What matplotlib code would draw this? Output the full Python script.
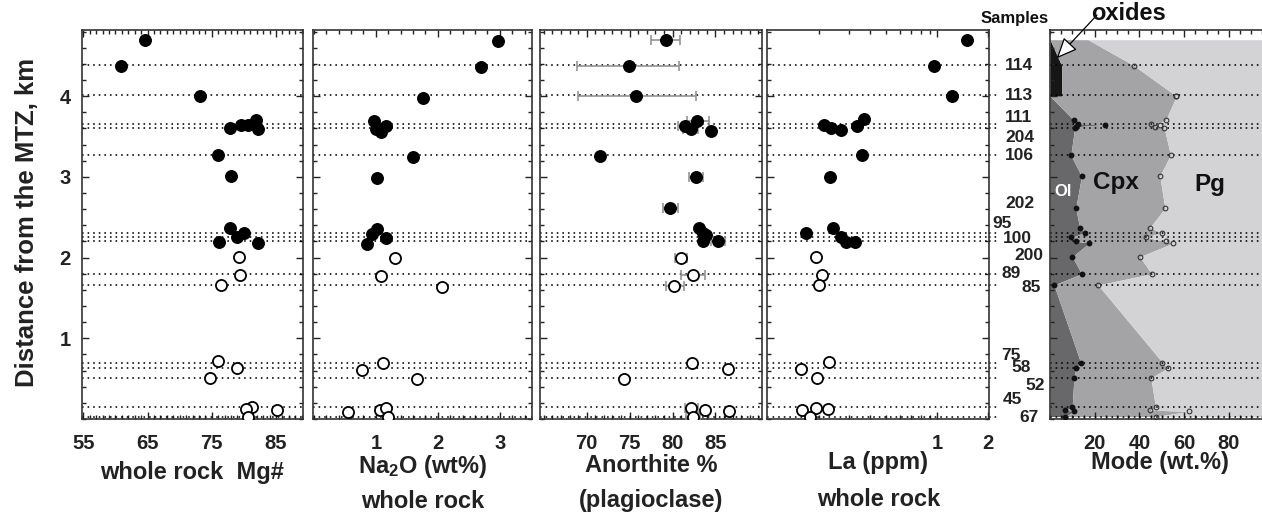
import numpy as np
import matplotlib
matplotlib.use('Agg')
import matplotlib.pyplot as plt
from matplotlib.ticker import FixedLocator, MultipleLocator, LogLocator, NullFormatter

plt.rcParams['font.family'] = ['Liberation Sans', 'DejaVu Sans']
plt.rcParams['font.weight'] = 'bold'
plt.rcParams['mathtext.fontset'] = 'custom'
plt.rcParams['mathtext.rm'] = 'Liberation Sans:bold'
plt.rcParams['mathtext.it'] = 'Liberation Sans:bold'

W, H = 1262, 516
INK = '#222222'

# ---- data (depth in km above the MTZ) ----
line_depths  = [4.39, 4.01, 3.655, 3.605, 3.27, 2.31, 2.26, 2.20, 1.80, 1.66, 0.70, 0.63, 0.51, 0.15, 0.03]
sample_names = ['114', '113', '111', '204', '106', '202', '95', '100', '200', '89', '85',
                '75', '58', '52', '45', '67']

mg_depth_f = [4.69, 4.38, 4.00, 3.70, 3.64, 3.64, 3.60, 3.59, 3.27, 3.01, 2.37, 2.31, 2.26, 2.19, 2.18]
mg_f       = [64.6, 60.9, 73.1, 81.9, 79.5, 80.6, 77.8, 82.2, 76.0, 78.0, 77.8, 80.0, 78.9, 76.1, 82.2]
mg_depth_o = [2.01, 1.79, 1.66, 0.72, 0.63, 0.51, 0.15, 0.13, 0.11, 0.03]
mg_o       = [79.2, 79.4, 76.5, 76.0, 79.0, 74.8, 81.3, 80.3, 85.2, 80.6]

na_depth_f = [4.68, 4.36, 3.98, 3.69, 3.63, 3.59, 3.56, 3.25, 2.99, 2.36, 2.29, 2.24, 2.17]
na_f       = [2.97, 2.69, 1.76, 0.97, 1.16, 1.00, 1.09, 1.60, 1.01, 1.01, 0.93, 1.16, 0.85]
na_depth_o = [2.00, 1.77, 1.64, 0.69, 0.61, 0.50, 0.09, 0.11, 0.14, 0.02]
na_o       = [1.31, 1.08, 2.07, 1.11, 0.78, 1.67, 0.55, 1.06, 1.16, 1.19]

an_depth_f = [4.69, 4.37, 4.00, 3.69, 3.63, 3.59, 3.57, 3.26, 3.00, 2.61, 2.37, 2.31, 2.28, 2.20, 2.20]
an_f       = [79.2, 74.9, 75.8, 82.9, 81.5, 82.1, 84.5, 71.6, 82.7, 79.7, 83.1, 83.6, 83.9, 83.5, 85.3]
an_lo_f    = [77.5, 68.9, 69.0, 81.7, 80.6, 81.2, 84.5, 71.6, 81.9, 78.9, 83.1, 83.6, 83.9, 83.5, 84.5]
an_hi_f    = [80.9, 80.8, 82.7, 84.3, 82.4, 83.0, 84.5, 71.6, 83.6, 80.6, 83.1, 83.6, 83.9, 83.5, 86.1]
an_depth_o = [2.00, 1.79, 1.65, 0.70, 0.62, 0.50, 0.14, 0.11, 0.10, 0.02]
an_o       = [81.0, 82.4, 80.2, 82.3, 86.5, 74.4, 82.2, 83.8, 86.6, 82.4]
an_lo_o    = [80.3, 81.0, 79.2, 82.3, 86.1, 74.4, 81.4, 83.8, 86.6, 81.6]
an_hi_o    = [81.7, 83.8, 81.3, 82.3, 86.9, 74.4, 83.0, 83.8, 86.6, 83.2]

la_depth_f = [4.69, 4.38, 4.00, 3.72, 3.64, 3.63, 3.60, 3.58, 3.27, 3.00, 2.37, 2.30, 2.26, 2.19, 2.19]
la_f       = [1.49, 0.955, 1.23, 0.371, 0.214, 0.334, 0.234, 0.270, 0.357, 0.232, 0.241, 0.168, 0.270, 0.288, 0.327]
la_depth_o = [2.01, 1.79, 1.66, 0.71, 0.62, 0.51, 0.14, 0.12, 0.11, 0.02]
la_o       = [0.191, 0.209, 0.200, 0.229, 0.156, 0.195, 0.191, 0.227, 0.158, 0.177]

# modal proportions, cumulative edges (wt.%)
mode_depth = [4.70, 4.38, 4.00, 4.00, 3.70, 3.65, 3.648, 3.62, 3.60, 3.27, 3.01, 2.61, 2.37, 2.31,
              2.25, 2.20, 2.18, 2.01, 1.80, 1.66, 0.70, 0.63, 0.51, 0.145, 0.11, 0.095, 0.03]
ox_edge    = [0.0, 5.2, 5.2, 0.0, 0, 0, 0, 0, 0, 0, 0, 0, 0, 0,
              0, 0, 0, 0, 0, 0, 0, 0, 0, 0, 0, 0, 0]
ol_edge    = [0.0, 5.2, 5.2, 0.0, 10.7, 12.5, 24.5, 11.8, 11.0, 9.3, 14.1, 11.5, 13.3, 15.6,
              9.6, 11.8, 17.5, 10.0, 14.1, 1.8, 13.7, 11.5, 10.7, 9.9, 6.9, 10.7, 6.9]
cpx_edge   = [17.0, 37.5, 56.5, 56.5, 51.7, 45.1, 49.1, 46.9, 51.1, 53.9, 49.1, 51.4, 44.6, 49.9,
              42.9, 52.1, 55.1, 40.2, 45.4, 21.5, 50.3, 52.6, 45.1, 47.2, 44.8, 62.2, 47.2]

# ---- layout helpers (pixel positions of the reference) ----
def rect(x0, x1, top=30, bottom=419):
    return [x0 / W, 1 - bottom / H, (x1 - x0) / W, (bottom - top) / H]

def fp(x, y):
    return x / W, 1 - y / H

fig = plt.figure(figsize=(W / 100, H / 100), dpi=100)

dotted = dict(color='k', lw=1.15, ls=(0, (1, 2.5)), zorder=2)

def style(ax, ylabels=False):
    ax.set_ylim(0, 4.82)
    ax.yaxis.set_major_locator(FixedLocator([1, 2, 3, 4]))
    ax.yaxis.set_minor_locator(MultipleLocator(0.2))
    ax.tick_params(which='both', direction='in', top=True, right=True, colors=INK,
                   labelsize=14.5, width=1.0)
    ax.tick_params(axis='x', pad=11)
    ax.tick_params(axis='y', pad=8)
    ax.tick_params(which='major', length=5)
    ax.tick_params(which='minor', length=3)
    ax.tick_params(axis='y', labelleft=ylabels)
    for s in ax.spines.values():
        s.set_linewidth(1.2)
        s.set_color('#333333')
    for d in line_depths:
        ax.axhline(d, **dotted)

filled = dict(ls='none', marker='o', ms=8.3, mfc='k', mec='k', zorder=4)
hollow = dict(ls='none', marker='o', ms=8.0, mfc='white', mec='k', mew=1.3, zorder=4)

# panel 1: Mg#
ax1 = fig.add_axes(rect(82, 303))
style(ax1, ylabels=True)
ax1.plot(mg_f, mg_depth_f, **filled)
ax1.plot(mg_o, mg_depth_o, **hollow)
ax1.set_xlim(54.8, 89.2)
ax1.xaxis.set_major_locator(FixedLocator([55, 65, 75, 85]))
ax1.xaxis.set_minor_locator(MultipleLocator(1))

# panel 2: Na2O
ax2 = fig.add_axes(rect(312.7, 532))
style(ax2)
ax2.plot(na_f, na_depth_f, **filled)
ax2.plot(na_o, na_depth_o, **hollow)
ax2.set_xlim(-0.02, 3.52)
ax2.xaxis.set_major_locator(FixedLocator([1, 2, 3]))
ax2.xaxis.set_minor_locator(MultipleLocator(0.2))

# panel 3: anorthite with ranges
ax3 = fig.add_axes(rect(540, 761.7))
style(ax3)
an_f_a, an_o_a = np.array(an_f), np.array(an_o)
ax3.errorbar(an_f_a, an_depth_f, xerr=[an_f_a - an_lo_f, np.array(an_hi_f) - an_f_a],
             fmt='none', ecolor='#8c8c8c', elinewidth=1.1, capsize=3.5, capthick=1.1, zorder=3)
ax3.errorbar(an_o_a, an_depth_o, xerr=[an_o_a - an_lo_o, np.array(an_hi_o) - an_o_a],
             fmt='none', ecolor='#8c8c8c', elinewidth=1.1, capsize=3.5, capthick=1.1, zorder=3)
ax3.plot(an_f, an_depth_f, **filled)
ax3.plot(an_o, an_depth_o, **hollow)
ax3.set_xlim(64.55, 90.4)
ax3.xaxis.set_major_locator(FixedLocator([70, 75, 80, 85]))
ax3.xaxis.set_minor_locator(MultipleLocator(1))

# panel 4: La (log)
ax4 = fig.add_axes(rect(767.3, 989.3))
style(ax4)
ax4.set_xscale('log')
ax4.plot(la_f, la_depth_f, **filled)
ax4.plot(la_o, la_depth_o, **hollow)
ax4.set_xlim(0.099, 2.03)
ax4.set_xticks([1, 2])
ax4.set_xticklabels(['1', '2'])
ax4.xaxis.set_minor_locator(LogLocator(base=10, subs=np.arange(2, 10)))
ax4.xaxis.set_minor_formatter(NullFormatter())
for d in line_depths:
    ax4.plot([1.0, 1.045], [d, d], transform=ax4.get_yaxis_transform(), clip_on=False, **dotted)

# panel 5: mode
ax5 = fig.add_axes(rect(1050, 1273.6))
style(ax5)
ax5.spines['right'].set_visible(False)
ax5.fill_betweenx(mode_depth, 0, ox_edge, color='#161616', lw=0, zorder=1)
ax5.fill_betweenx(mode_depth, ox_edge, ol_edge, color='#68686b', lw=0, zorder=1)
ax5.fill_betweenx(mode_depth, ol_edge, cpx_edge, color='#a4a4a7', lw=0, zorder=1)
ax5.fill_betweenx(mode_depth, cpx_edge, 100, color='#d3d3d5', lw=0, zorder=1)
ax5.plot(ol_edge[4:], mode_depth[4:], ls='none', marker='o', ms=3.2, mfc='#111', mec='#111', zorder=3)
ax5.plot(cpx_edge[1:], mode_depth[1:], ls='none', marker='o', ms=3.4, mfc='none', mec='#333', mew=0.8, zorder=3)
ax5.set_xlim(0, 100)
ax5.xaxis.set_major_locator(FixedLocator([20, 40, 60, 80]))
ax5.xaxis.set_minor_locator(MultipleLocator(5))

fig.text(*fp(1116, 182), 'Cpx', ha='center', va='center', fontsize=17.5, color='#111')
fig.text(*fp(1210, 185), 'Pg', ha='center', va='center', fontsize=17.5, color='#111')
fig.text(*fp(1063, 192), 'Ol', ha='center', va='center', fontsize=12, color='white')
fig.text(*fp(1129, 13), 'oxides', ha='center', va='center', fontsize=17, color='#111')
ax5.annotate('', xy=(1056.7, H - 58.3), xycoords='figure pixels',
             xytext=(1097, H - 15), textcoords='figure pixels',
             arrowprops=dict(arrowstyle='-|>,head_length=0.8,head_width=0.35', fc='white',
                             ec='k', lw=0.9, mutation_scale=16, shrinkA=0, shrinkB=0),
             zorder=6)

# sample labels
label_xy = [(1005, 65), (1005, 96), (1005, 118), (1005, 137), (1005, 155), (1005, 203),
            (992, 224), (1003, 239), (1014, 256), (1002, 274), (1021, 288),
            (1001, 355), (1011, 368), (1025, 386), (1003, 400), (1019, 417)]
for name, (x, y) in zip(sample_names, label_xy):
    fig.text(*fp(x, y), name, ha='left', va='center', fontsize=12.5, color=INK)
fig.text(*fp(1015, 19), 'Samples', ha='center', va='center', fontsize=12, color='#111',
         family=['Liberation Sans Narrow', 'Liberation Sans'])

# axis titles
lab = dict(ha='center', va='center', fontsize=17, color=INK)
fig.text(*fp(27, 222), 'Distance from the MTZ, km', rotation=90, ha='center', va='center',
         fontsize=18.5, color=INK)
fig.text(*fp(192.5, 472), 'whole rock  Mg#', **lab)
fig.text(*fp(422.4, 467), 'Na$_2$O (wt%)', **lab)
fig.text(*fp(422.4, 502), 'whole rock', **lab)
fig.text(*fp(650.9, 465), 'Anorthite %', **lab)
fig.text(*fp(650.9, 500), '(plagioclase)', **lab)
fig.text(*fp(878.3, 463), 'La (ppm)', **lab)
fig.text(*fp(878.3, 500), 'whole rock', **lab)
fig.text(*fp(1160, 463), 'Mode (wt.%)', **lab)

fig.savefig('out.png', dpi=100)
